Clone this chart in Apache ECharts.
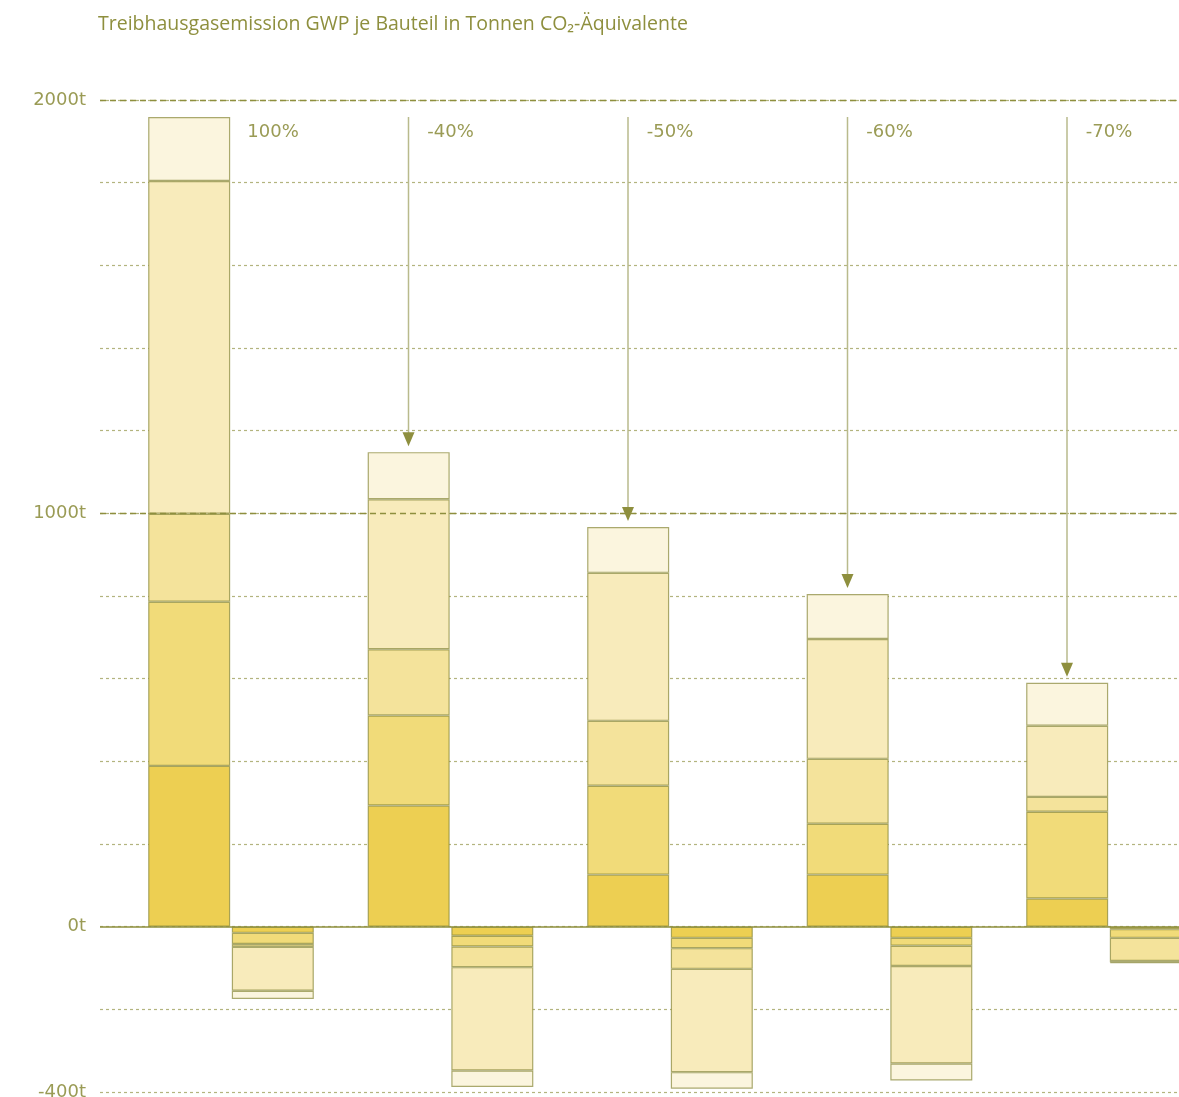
<!DOCTYPE html>
<html style="height: 100%">
  <head>
    <meta charset="UTF-8">
    <meta name="viewport" content="width=device-width, initial-scale=1.0">
  </head>

  <body style="height: 100%; margin: 0">
    <div id="container" style="height: 100%"></div>
    <script type="text/javascript" src="https://fastly.jsdelivr.net/npm/echarts@6.0.0/dist/echarts.min.js"></script>
    <script>
    var dom = document.getElementById('container');
    var myChart = echarts.init(dom, null, { renderer: 'canvas' });

    // Szenarien (Reduktion gegenüber Referenz)
    const categories = ['100%', '-40%', '-50%', '-60%', '-70%'];

    // positive Anteile, von unten nach oben
    const pos1 = [389, 293, 126, 126, 68];
    const pos2 = [397, 218, 215, 123, 210];
    const pos3 = [213, 160, 157, 157, 36];
    const pos4 = [805, 363, 358, 290, 172];
    const pos5 = [155, 114, 111, 109, 104];

    // negative Anteile (Gutschriften), von oben nach unten
    const neg1 = [-15, -22, -27, -27, -6];
    const neg2 = [-27, -26, -25, -19, -21];
    const neg3 = [-7, -50, -50, -49, -56];
    const neg4 = [-106, -250, -250, -236, -3];
    const neg5 = [-20, -40, -40, -41, -2];

    const yLabels = [2000, 1000, 0, -400];

    const colors = ['#EDCF52', '#F1DB79', '#F4E39B', '#F8EBBB', '#FBF5DE'];
    const olive = '#8E8F3E';
    const textColor = '#9A9B55';
    const labelFont = 'DejaVu Sans';
    const barWidth = 82;
    const gapPx = 2;

    const posLayers = [pos1, pos2, pos3, pos4, pos5];
    const negLayers = [neg1, neg2, neg3, neg4, neg5];
    const totals = categories.map((c, i) => posLayers.reduce((s, l) => s + l[i], 0));

    function barSeries(layer, idx, stack) {
      return {
        type: 'bar',
        xAxisIndex: 1,
        yAxisIndex: 1,
        stack: stack,
        barWidth: barWidth,
        barGap: '2%',
        z: 3,
        itemStyle: {
          color: colors[idx],
          borderColor: 'rgba(135,136,55,0.7)',
          borderWidth: 1.2
        },
        emphasis: { disabled: true },
        data: layer
      };
    }

    var series = [];
    posLayers.forEach((l, i) => series.push(barSeries(l, i, 'pos')));
    negLayers.forEach((l, i) => series.push(barSeries(l, i, 'neg')));

    // Hauptlinien bei 1000t / 2000t und Nulllinie
    series.push({
      type: 'line',
      xAxisIndex: 0,
      yAxisIndex: 0,
      data: [],
      z: 1,
      silent: true,
      markLine: {
        symbol: ['none', 'none'],
        silent: true,
        label: { show: false },
        data: [
          { yAxis: 1000, lineStyle: { color: olive, type: [6, 4], width: 1.4 } },
          { yAxis: 2000, lineStyle: { color: olive, type: [6, 4], width: 1.4 } }
        ]
      }
    });
    series.push({
      type: 'line',
      xAxisIndex: 0,
      yAxisIndex: 0,
      data: [],
      z: 6,
      silent: true,
      markLine: {
        symbol: ['none', 'none'],
        silent: true,
        label: { show: false },
        data: [
          { yAxis: 0, lineStyle: { color: olive, type: 'solid', width: 1.6 } }
        ]
      }
    });

    // Pfeile und Prozentangaben
    series.push({
      type: 'custom',
      xAxisIndex: 1,
      yAxisIndex: 1,
      z: 5,
      silent: true,
      clip: false,
      data: categories.map((c, i) => [i, totals[0], totals[i]]),
      renderItem: function (params, api) {
        var k = api.value(0);
        var p0 = api.coord([k, api.value(1)]);
        var p1 = api.coord([k, api.value(2)]);
        var shift = (barWidth + gapPx) / 2;
        var children = [];
        var tx = k === 0 ? p0[0] + shift : p0[0];
        children.push({
          type: 'text',
          style: {
            x: tx, y: p0[1] + 15, text: categories[k],
            fill: textColor, font: '18px "' + labelFont + '"',
            align: 'center', verticalAlign: 'middle'
          }
        });
        if (k > 0) {
          var ax = p0[0] - shift;
          var tip = p1[1] - 6;
          children.push({
            type: 'line',
            shape: { x1: ax, y1: p0[1], x2: ax, y2: tip - 12 },
            style: { stroke: '#B9BA8C', lineWidth: 1.5 }
          });
          children.push({
            type: 'polygon',
            shape: { points: [[ax - 6, tip - 14], [ax + 6, tip - 14], [ax, tip]] },
            style: { fill: olive }
          });
        }
        return { type: 'group', children: children };
      }
    });

    var option = {
      animation: false,
      title: {
        text: 'Treibhausgasemission GWP je Bauteil in Tonnen CO₂-Äquivalente',
        left: 93,
        top: 9,
        textStyle: {
          color: olive,
          fontSize: 19.5,
          fontWeight: 'normal',
          fontFamily: 'Open Sans'
        }
      },
      grid: [
        { left: 100, right: 0, top: 100, bottom: 5, outerBoundsMode: 'none' },
        { left: 121.25, width: 1097.5, top: 100, bottom: 5, outerBoundsMode: 'none' }
      ],
      xAxis: [
        {
          type: 'value',
          gridIndex: 0,
          show: false
        },
        {
          type: 'category',
          gridIndex: 1,
          data: categories,
          axisLine: { show: false },
          axisTick: { show: false },
          axisLabel: { show: false }
        }
      ],
      yAxis: [
        {
          type: 'value',
          gridIndex: 0,
          min: -400,
          max: 2000,
          interval: 200,
          axisLine: { show: false },
          axisTick: { show: false },
          axisLabel: {
            color: textColor,
            fontSize: 18,
            fontFamily: labelFont,
            margin: 14,
            formatter: function (v) {
              return yLabels.indexOf(v) >= 0 ? v + 't' : '';
            }
          },
          splitLine: {
            lineStyle: { color: '#B3B47E', type: [3, 3], width: 1.2 }
          }
        },
        {
          type: 'value',
          gridIndex: 1,
          min: -400,
          max: 2000,
          interval: 200,
          show: false,
          splitLine: { show: false }
        }
      ],
      series: series
    };

    myChart.setOption(option);
    window.addEventListener('resize', myChart.resize);
    </script>
  </body>
</html>
